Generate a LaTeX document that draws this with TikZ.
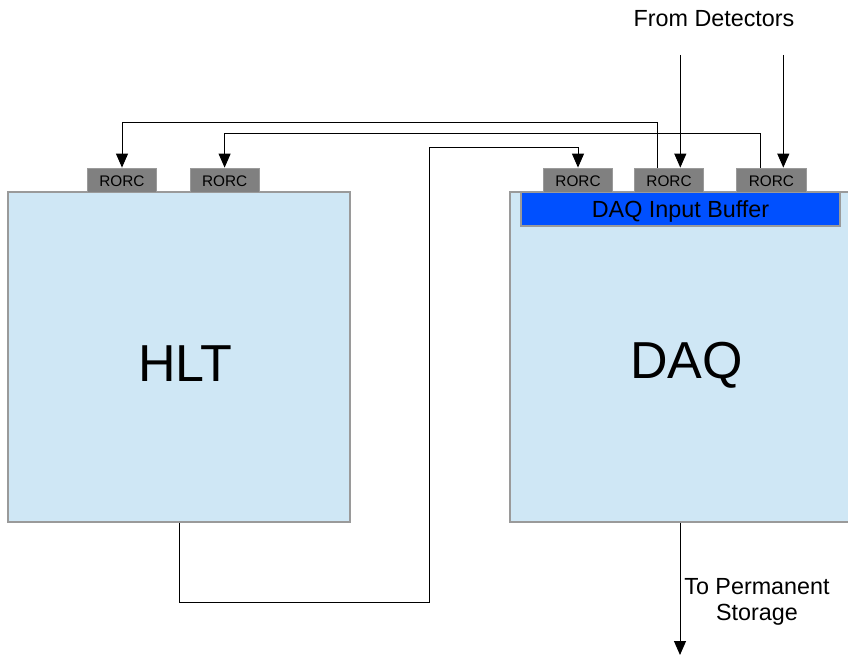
\documentclass[tikz,border=0pt]{standalone}
\usepackage{fontspec}
\setmainfont{Liberation Sans}
\usetikzlibrary{arrows.meta,calc}

\definecolor{panelblue}{HTML}{CFE7F5}
\definecolor{bufferblue}{HTML}{0050FF}
\definecolor{cardgray}{HTML}{808080}
\definecolor{edgegray}{HTML}{9A9A9A}

\tikzset{
  unit/.style={draw=edgegray, line width=0.9pt, fill=panelblue, inner sep=0pt},
  buffer/.style={draw=edgegray, line width=0.9pt, fill=bufferblue, inner sep=0pt,
    minimum width=239.25pt, minimum height=25.5pt},
  rorc/.style={draw=edgegray, line width=0.6pt, fill=cardgray, inner sep=0pt,
    minimum width=52pt, minimum height=18pt},
  rorctext/.style={inner sep=0pt, anchor=base, font=\fontsize{11.5}{13}\selectfont},
  bigtext/.style={inner sep=0pt, anchor=base, font=\fontsize{39}{45}\selectfont},
  midtext/.style={inner sep=0pt, font=\fontsize{17.5}{19.8}\selectfont},
  wire/.style={line width=0.75pt, black},
  link/.style={wire, -{Triangle[length=10.5pt,width=9pt]}},
}

\begin{document}
\begin{tikzpicture}[x=0.75pt,y=-0.75pt]
\useasboundingbox (0,0) rectangle (848,656);

% main units
\node[unit, minimum width=256.5pt, minimum height=247.5pt] (hlt) at (179,357) {};
\node[unit, minimum width=262.5pt, minimum height=247.5pt] (daq) at (685,357) {};
\node[bigtext] (hlttext) at (185.5,381) {HLT};
\node[bigtext] (daqtext) at (686.5,378.5) {DAQ};

% input buffer of the DAQ
\node[buffer] (buf) at (680.5,209) {};
\node[midtext, anchor=base] (buftext) at (680.5,217) {DAQ Input Buffer};

% readout cards
\node[rorc] (r1) at (122,180) {};
\node[rorc] (r2) at (224.6,180) {};
\node[rorc] (r3) at (578,180) {};
\node[rorc] (r4) at (669,180) {};
\node[rorc] (r5) at (771.4,180) {};
\foreach \card in {r1,r2,r3,r4,r5}
  \node[rorctext] (\card text) at ($(\card.center)+(0,6)$) {RORC};

% DAQ -> HLT links
\draw[link] ($(r4.north)+(-11.3,0)$) -- ++(0,-45) -| (r1.north);
\draw[link] ($(r5.north)+(-11,0)$) -- ++(0,-34) -| (r2.north);

% HLT -> DAQ link
\draw[link] (hlt.south) |- (429.3,602) -- (429.3,147) -| (r3.north);

% detector inputs
\node[midtext, anchor=base] (dettext) at (714,26.7) {From Detectors};
\coordinate (det1) at (680.3,55);
\coordinate (det2) at (783.3,55);
\draw[link] (det1) -- (det1 |- r4.north);
\draw[link] (det2) -- (det2 |- r5.north);

% output to storage
\coordinate (store) at (680,655);
\draw[link] (store |- daq.south) -- (store);
\node[midtext, align=center] (storetext) at (757,601.6) {To Permanent\\Storage};
\end{tikzpicture}
\end{document}
